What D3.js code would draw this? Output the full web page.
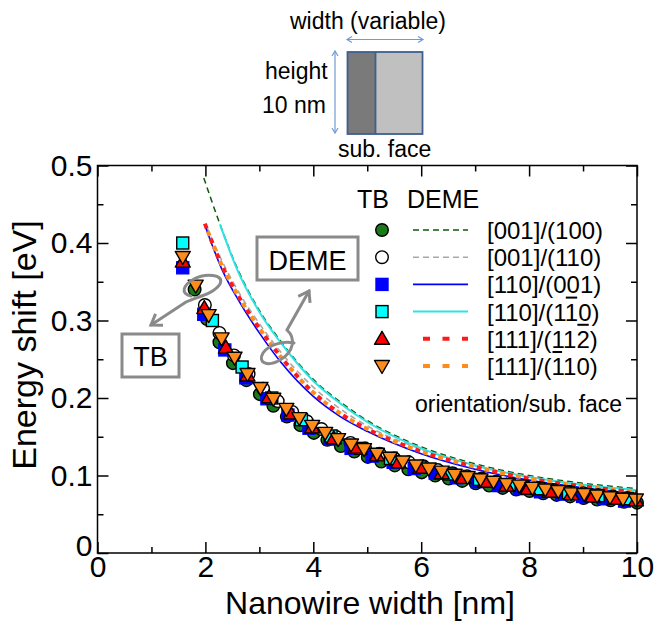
<!DOCTYPE html>
<html>
<head>
<meta charset="utf-8">
<script src="https://cdn.jsdelivr.net/npm/d3@7"></script>
<style>
  body { margin: 0; background: #fff; }
  svg { display: block; }
  text { font-family: "Liberation Sans", Arial, Helvetica, sans-serif; fill: #000; }
</style>
</head>
<body>
<svg id="chart" width="654" height="621"></svg>
<script>
// ---------- axis ticks ----------
const xMajorTicks = [0, 2, 4, 6, 8, 10];
const xMinorTicks = [1, 3, 5, 7, 9];
const yMajorTicks = [0, 0.1, 0.2, 0.3, 0.4, 0.5];
const yMinorTicks = [0.05, 0.15, 0.25, 0.35, 0.45];

// ---------- tight-binding results (width nm, energy shift eV) ----------
const tbW_001_100 = [1.80,2.03,2.26,2.51,2.76,3.01,3.26,3.51,3.76,4.01,4.26,4.51,4.76,5.01,5.26,5.51,5.76,6.01,6.26,6.51,6.76,7.01,7.26,7.51,7.76,8.01,8.26,8.51,8.76,9.01,9.26,9.51,9.76,10.0];
const tbE_001_100 = [0.340,0.302,0.272,0.245,0.223,0.205,0.190,0.176,0.165,0.155,0.146,0.138,0.131,0.124,0.118,0.113,0.108,0.104,0.100,0.096,0.093,0.090,0.087,0.084,0.082,0.080,0.077,0.075,0.073,0.071,0.069,0.068,0.066,0.065];

const tbW_001_110 = [1.99,2.26,2.53,2.80,3.07,3.34,3.61,3.88,4.15,4.42,4.69,4.96,5.23,5.50,5.77,6.04,6.31,6.58,6.85,7.12,7.39,7.66,7.93,8.20,8.47,8.74,9.01,9.28,9.55,9.82];
const tbE_001_110 = [0.320,0.284,0.255,0.231,0.212,0.196,0.182,0.170,0.160,0.150,0.142,0.135,0.128,0.122,0.117,0.112,0.107,0.103,0.099,0.096,0.092,0.089,0.086,0.084,0.081,0.079,0.077,0.075,0.073,0.071];

const tbW_110_001 = [1.58,1.97,2.36,2.75,3.14,3.53,3.92,4.31,4.70,5.09,5.48,5.87,6.26,6.65,7.04,7.43,7.82,8.21,8.60,8.99,9.38,9.77];
const tbE_110_001 = [0.368,0.308,0.262,0.226,0.199,0.178,0.161,0.147,0.135,0.125,0.117,0.109,0.103,0.097,0.092,0.087,0.083,0.079,0.076,0.073,0.070,0.067];

const tbW_110_1b10 = [1.58,2.13,2.68,3.23,3.78,4.33,4.88,5.43,5.98,6.53,7.08,7.63,8.18,8.73,9.28,9.83];
const tbE_110_1b10 = [0.400,0.300,0.240,0.200,0.172,0.151,0.135,0.122,0.111,0.102,0.095,0.088,0.083,0.078,0.074,0.070];

const tbW_111_112b = [1.58,1.98,2.38,2.78,3.18,3.58,3.98,4.38,4.78,5.18,5.58,5.98,6.38,6.78,7.18,7.58,7.98,8.38,8.78,9.18,9.58,9.98];
const tbE_111_112b = [0.376,0.316,0.265,0.229,0.201,0.180,0.162,0.148,0.136,0.126,0.117,0.110,0.103,0.097,0.092,0.087,0.083,0.079,0.076,0.073,0.070,0.068];

const tbW_111_b110 = [1.58,1.82,2.06,2.30,2.54,2.78,3.02,3.26,3.50,3.74,3.98,4.22,4.46,4.70,4.94,5.18,5.42,5.66,5.90,6.14,6.38,6.62,6.86,7.10,7.34,7.58,7.82,8.06,8.30,8.54,8.78,9.02,9.26,9.50,9.74,9.98];
const tbE_111_b110 = [0.382,0.345,0.307,0.277,0.252,0.231,0.213,0.199,0.186,0.174,0.164,0.155,0.147,0.140,0.134,0.128,0.123,0.118,0.113,0.109,0.105,0.101,0.098,0.095,0.092,0.089,0.087,0.084,0.082,0.080,0.077,0.076,0.074,0.072,0.070,0.069];

// ---------- DEME results (width nm, energy shift eV) ----------
const demeW_001_100 = [1.97,2.25,2.6,3.0,3.4,4.0,4.5,5.0,6.0,7.0,8.0,9.0,10.0];
const demeE_001_100 = [0.484,0.428,0.366,0.313,0.273,0.224,0.195,0.171,0.137,0.115,0.100,0.090,0.083];
const demeW_001_110 = [2.03,2.3,2.64,3.0,3.4,4.0,4.5,5.0,6.0,7.0,8.0,9.0,10.0];
const demeE_001_110 = [0.420,0.378,0.334,0.296,0.259,0.214,0.186,0.164,0.134,0.113,0.098,0.087,0.079];
const demeW_110_001 = [1.99,2.3,2.64,3.0,3.4,4.0,4.5,5.0,6.0,7.0,8.0,9.0,10.0];
const demeE_110_001 = [0.423,0.367,0.323,0.284,0.246,0.202,0.176,0.157,0.128,0.108,0.094,0.084,0.076];
const demeW_110_1b10 = [2.27,2.6,3.0,3.4,4.0,4.5,5.0,6.0,7.0,8.0,9.0,10.0];
const demeE_110_1b10 = [0.424,0.364,0.311,0.271,0.222,0.193,0.169,0.135,0.113,0.098,0.088,0.081];
const demeW_111_112b = [1.99,2.3,2.64,3.0,3.4,4.0,4.5,5.0,6.0,7.0,8.0,9.0,10.0];
const demeE_111_112b = [0.425,0.372,0.328,0.290,0.253,0.207,0.180,0.160,0.131,0.111,0.096,0.086,0.078];
const demeW_111_b110 = demeW_111_112b;
const demeE_111_b110 = demeE_111_112b;

// ---------- legend labels (index of the overlined character, -1 = none) ----------
const legendLabels = ["[001]/(100)", "[001]/(110)", "[110]/(001)", "[110]/(110)", "[111]/(112)", "[111]/(110)"];
const legendBars   = [-1, -1, -1, 8, 9, 7];

// ---------- series styling ----------
const tbStyles = [
  { shape: "circle",   fill: "#1a7a1a" },
  { shape: "circle",   fill: "#ffffff" },
  { shape: "square",   fill: "#0000ff", stroke: "#0000ff" },
  { shape: "square",   fill: "#00ffff" },
  { shape: "triUp",    fill: "#ff0000" },
  { shape: "triDown",  fill: "#ff8c1a" }
];
const demeStyles = [
  { color: "#0d5a0d", width: 1.5, dash: "6,4" },
  { color: "#a8a8a8", width: 1.6, dash: "6,4" },
  { color: "#0000ff", width: 1.6, dash: null },
  { color: "#2ee3e3", width: 2.0, dash: null },
  { color: "#ff1a1a", width: 4.0, dash: "5,11", offset: 0 },
  { color: "#ff8c1a", width: 4.0, dash: "5,11", offset: 8 }
];

const tbData = [
  d3.zip(tbW_001_100, tbE_001_100),
  d3.zip(tbW_001_110, tbE_001_110),
  d3.zip(tbW_110_001, tbE_110_001),
  d3.zip(tbW_110_1b10, tbE_110_1b10),
  d3.zip(tbW_111_112b, tbE_111_112b),
  d3.zip(tbW_111_b110, tbE_111_b110)
];
const demeData = [
  d3.zip(demeW_001_100, demeE_001_100),
  d3.zip(demeW_001_110, demeE_001_110),
  d3.zip(demeW_110_001, demeE_110_001),
  d3.zip(demeW_110_1b10, demeE_110_1b10),
  d3.zip(demeW_111_112b, demeE_111_112b),
  d3.zip(demeW_111_b110, demeE_111_b110)
];

// ---------- layout ----------
const svg = d3.select("#chart");
const plot = { left: 97.5, right: 637, top: 165.5, bottom: 553 };
const x = d3.scaleLinear().domain([0, 10]).range([plot.left, plot.right]);
const y = d3.scaleLinear().domain([0, 0.5]).range([plot.bottom, plot.top]);

const FONT_TICK = 30, FONT_TITLE = 32;
const MAJOR = 11, MINOR = 6;

// ---------- marker symbols ----------
function drawMarker(sel, shape, cx, cy, fill, stroke) {
  const st = stroke || "#000";
  if (shape === "circle") {
    sel.append("circle").attr("cx", cx).attr("cy", cy).attr("r", 6.3)
      .attr("fill", fill).attr("stroke", st).attr("stroke-width", 1.4);
  } else if (shape === "square") {
    sel.append("rect").attr("x", cx - 6).attr("y", cy - 6).attr("width", 12).attr("height", 12)
      .attr("fill", fill).attr("stroke", st).attr("stroke-width", 1.4);
  } else if (shape === "triUp") {
    sel.append("path").attr("d", `M${cx},${cy - 7.5} L${cx + 7.5},${cy + 5.5} L${cx - 7.5},${cy + 5.5} Z`)
      .attr("fill", fill).attr("stroke", st).attr("stroke-width", 1.4).attr("stroke-linejoin", "round");
  } else {
    sel.append("path").attr("d", `M${cx},${cy + 7.5} L${cx + 7.5},${cy - 5.5} L${cx - 7.5},${cy - 5.5} Z`)
      .attr("fill", fill).attr("stroke", st).attr("stroke-width", 1.4).attr("stroke-linejoin", "round");
  }
}

// ---------- DEME curves ----------
const line = d3.line().x(d => x(d[0])).y(d => y(d[1])).curve(d3.curveMonotoneX);
const curves = svg.append("g");
demeData.forEach((data, i) => {
  const s = demeStyles[i];
  const p = curves.append("path").datum(data).attr("d", line)
    .attr("fill", "none").attr("stroke", s.color).attr("stroke-width", s.width);
  if (s.dash) p.attr("stroke-dasharray", s.dash).attr("stroke-dashoffset", s.offset || 0);
});

// ---------- TB markers ----------
const marks = svg.append("g");
tbData.forEach((data, i) => {
  const s = tbStyles[i];
  const g = marks.append("g");
  data.forEach(d => drawMarker(g, s.shape, x(d[0]), y(d[1]), s.fill, s.stroke));
});

// ---------- axes ----------
const axes = svg.append("g");
function styleAxis(g) {
  g.select(".domain").remove();
  g.selectAll(".tick line").attr("stroke", "#000").attr("stroke-width", 1.5);
  g.selectAll(".tick text").attr("font-size", FONT_TICK)
    .attr("font-family", '"Liberation Sans", Arial, Helvetica, sans-serif').attr("fill", "#000");
}
// bottom
axes.append("g").attr("transform", `translate(0,${plot.bottom})`)
  .call(d3.axisBottom(x).tickValues(xMajorTicks).tickSizeInner(-MAJOR).tickSizeOuter(0).tickPadding(3).tickFormat(d3.format("d")))
  .call(styleAxis);
axes.append("g").attr("transform", `translate(0,${plot.bottom})`)
  .call(d3.axisBottom(x).tickValues(xMinorTicks).tickSizeInner(-MINOR).tickSizeOuter(0).tickFormat(""))
  .call(styleAxis);
// top
axes.append("g").attr("transform", `translate(0,${plot.top})`)
  .call(d3.axisTop(x).tickValues(xMajorTicks).tickSizeInner(-MAJOR).tickSizeOuter(0).tickFormat(""))
  .call(styleAxis);
axes.append("g").attr("transform", `translate(0,${plot.top})`)
  .call(d3.axisTop(x).tickValues(xMinorTicks).tickSizeInner(-MINOR).tickSizeOuter(0).tickFormat(""))
  .call(styleAxis);
// left
const leftAxis = axes.append("g").attr("transform", `translate(${plot.left},0)`)
  .call(d3.axisLeft(y).tickValues(yMajorTicks).tickSizeInner(-MAJOR).tickSizeOuter(0).tickPadding(5)
    .tickFormat(d => d === 0 ? "0" : d3.format(".1f")(d)))
  .call(styleAxis);
leftAxis.selectAll(".tick text").filter(d => d === 0).attr("dy", "0.08em");
axes.append("g").attr("transform", `translate(${plot.left},0)`)
  .call(d3.axisLeft(y).tickValues(yMinorTicks).tickSizeInner(-MINOR).tickSizeOuter(0).tickFormat(""))
  .call(styleAxis);
// right
axes.append("g").attr("transform", `translate(${plot.right},0)`)
  .call(d3.axisRight(y).tickValues(yMajorTicks).tickSizeInner(-MAJOR).tickSizeOuter(0).tickFormat(""))
  .call(styleAxis);
axes.append("g").attr("transform", `translate(${plot.right},0)`)
  .call(d3.axisRight(y).tickValues(yMinorTicks).tickSizeInner(-MINOR).tickSizeOuter(0).tickFormat(""))
  .call(styleAxis);
// frame
axes.append("rect").attr("x", plot.left).attr("y", plot.top)
  .attr("width", plot.right - plot.left).attr("height", plot.bottom - plot.top)
  .attr("fill", "none").attr("stroke", "#000").attr("stroke-width", 1.5);

// axis titles
svg.append("text").attr("x", 370).attr("y", 614)
  .attr("text-anchor", "middle").attr("font-size", FONT_TITLE).text("Nanowire width [nm]");
svg.append("text").attr("transform", `translate(36,345) rotate(-90)`)
  .attr("text-anchor", "middle").attr("font-size", FONT_TITLE + 2).text("Energy shift [eV]");

// ---------- legend ----------
const legend = svg.append("g");
legend.append("text").attr("x", 357).attr("y", 208).attr("font-size", 25).text("TB");
legend.append("text").attr("x", 407).attr("y", 208).attr("font-size", 25).text("DEME");
const rowY0 = 230, rowStep = 27.2;
legendLabels.forEach((lab, i) => {
  const ry = rowY0 + i * rowStep;
  const ts = tbStyles[i], ds = demeStyles[i];
  drawMarker(legend, ts.shape, 382, ry, ts.fill, ts.stroke);
  const isThick = ds.width > 3;
  const l = legend.append("line").attr("x1", isThick ? 423 : 413).attr("x2", 468)
    .attr("y1", ry).attr("y2", ry).attr("stroke", ds.color).attr("stroke-width", ds.width);
  if (ds.dash) l.attr("stroke-dasharray", isThick ? "7,12.5" : "6,4");
  const t = legend.append("text").attr("x", 487).attr("y", ry + 9).attr("font-size", 24).text(lab);
  const bi = legendBars[i];
  if (bi >= 0) {
    const node = t.node();
    const a = node.getStartPositionOfChar(bi).x;
    const b = node.getEndPositionOfChar(bi).x;
    legend.append("line").attr("x1", a + 1).attr("x2", b - 1)
      .attr("y1", ry - 14).attr("y2", ry - 14).attr("stroke", "#000").attr("stroke-width", 2);
  }
});
legend.append("text").attr("x", 415).attr("y", 412).attr("font-size", 23).text("orientation/sub. face");

// ---------- annotation boxes and arrows ----------
const ann = svg.append("g");
const GRAY = "#8a8a8a";
ann.append("rect").attr("x", 257).attr("y", 237).attr("width", 101).attr("height", 43)
  .attr("fill", "#fff").attr("stroke", GRAY).attr("stroke-width", 3);
ann.append("text").attr("x", 307.5).attr("y", 270).attr("text-anchor", "middle").attr("font-size", 27).text("DEME");
ann.append("rect").attr("x", 122).attr("y", 334).attr("width", 57).attr("height", 43)
  .attr("fill", "#fff").attr("stroke", GRAY).attr("stroke-width", 3);
ann.append("text").attr("x", 150.5).attr("y", 366).attr("text-anchor", "middle").attr("font-size", 27).text("TB");

function arrowHead(g, tip, from, len, ang) {
  const dx = from[0] - tip[0], dy = from[1] - tip[1];
  const th = Math.atan2(dy, dx);
  const p1 = [tip[0] + len * Math.cos(th + ang), tip[1] + len * Math.sin(th + ang)];
  const p2 = [tip[0] + len * Math.cos(th - ang), tip[1] + len * Math.sin(th - ang)];
  g.append("path").attr("d", `M${p1[0]},${p1[1]} L${tip[0]},${tip[1]} L${p2[0]},${p2[1]}`)
    .attr("fill", "none").attr("stroke", GRAY).attr("stroke-width", 3).attr("stroke-linejoin", "miter");
}
// coiled arrow toward the TB box
ann.append("path")
  .attr("d", "M151,325 L186,302 C196,297 214,294 220,284 C225,274 205,273 194,279 C183,285 180,294 191,296")
  .attr("fill", "none").attr("stroke", GRAY).attr("stroke-width", 3).attr("stroke-linecap", "round");
arrowHead(ann, [151, 325], [186, 302], 12, 0.6);
// coiled arrow toward the DEME box
ann.append("path")
  .attr("d", "M309,291 L287,330 C296,338 294,352 280,360 C268,367 257,363 263,353 C269,344 284,341 294,343")
  .attr("fill", "none").attr("stroke", GRAY).attr("stroke-width", 3).attr("stroke-linecap", "round");
arrowHead(ann, [309, 291], [287, 330], 12, 0.6);

// ---------- cross-section sketch ----------
const sk = svg.append("g");
const BLUE = "#6f9bd6";
sk.append("text").attr("x", 290).attr("y", 29).attr("font-size", 23).text("width (variable)");
sk.append("line").attr("x1", 347).attr("x2", 423).attr("y1", 39.5).attr("y2", 39.5).attr("stroke", BLUE).attr("stroke-width", 1.2);
sk.append("path").attr("d", "M352,36.5 L347,39.5 L352,42.5 M418,36.5 L423,39.5 L418,42.5")
  .attr("fill", "none").attr("stroke", BLUE).attr("stroke-width", 1.2);
sk.append("line").attr("x1", 335).attr("x2", 335).attr("y1", 51).attr("y2", 133).attr("stroke", BLUE).attr("stroke-width", 1.2);
sk.append("path").attr("d", "M332,56 L335,51 L338,56 M332,128 L335,133 L338,128")
  .attr("fill", "none").attr("stroke", BLUE).attr("stroke-width", 1.2);
sk.append("rect").attr("x", 347.5).attr("y", 52).attr("width", 28).attr("height", 82).attr("fill", "#7a7a7a");
sk.append("rect").attr("x", 375.5).attr("y", 52).attr("width", 47).attr("height", 82).attr("fill", "#c0c0c0");
sk.append("rect").attr("x", 347.5).attr("y", 52).attr("width", 75).attr("height", 82)
  .attr("fill", "none").attr("stroke", "#3e5f8f").attr("stroke-width", 1.8);
sk.append("line").attr("x1", 375.5).attr("x2", 375.5).attr("y1", 52).attr("y2", 134).attr("stroke", "#3e5f8f").attr("stroke-width", 1.8);
sk.append("text").attr("x", 265).attr("y", 79).attr("font-size", 23).text("height");
sk.append("text").attr("x", 262).attr("y", 113).attr("font-size", 23).text("10 nm");
sk.append("text").attr("x", 338).attr("y", 157).attr("font-size", 23).text("sub. face");
</script>
</body>
</html>
